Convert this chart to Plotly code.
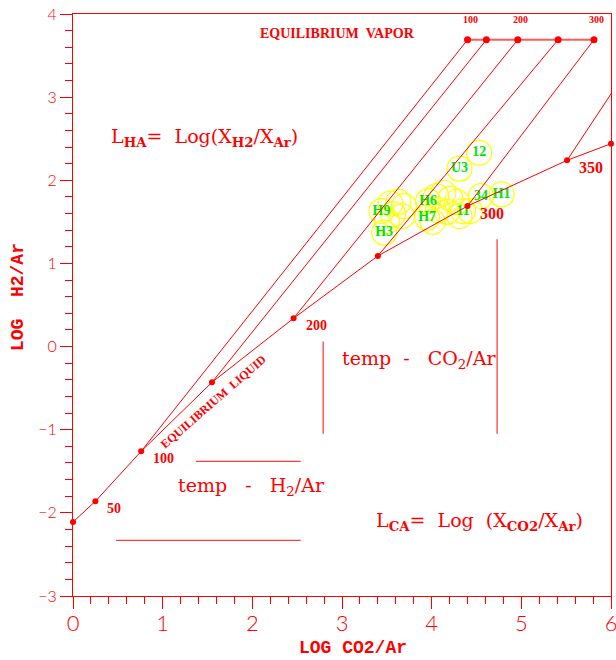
import plotly.graph_objects as go

# ---------------- data ----------------
# equilibrium liquid curve (L_CA, L_HA) with temperature labels
liquid_x = [0.00, 0.25, 0.76, 1.55, 2.46, 3.40, 4.40, 5.51, 6.00]
liquid_y = [-2.11, -1.86, -1.26, -0.43, 0.34, 1.09, 1.69, 2.24, 2.44]
liquid_labels = ["", "50", "100", "", "200", "", "300", "350", ""]
liquid_label_big = [False, False, False, False, False, False, True, True, False]

# equilibrium vapor line
vapor_x = [4.40, 4.61, 4.96, 5.41, 5.81]
vapor_y = [3.69, 3.69, 3.69, 3.69, 3.69]
vapor_labels = ["100", "", "200", "", "300"]

# tie lines: liquid point -> vapor end point
tie_liq_x = [0.76, 1.55, 2.46, 3.40, 4.40, 5.51]
tie_liq_y = [-1.26, -0.43, 0.34, 1.09, 1.69, 2.24]
tie_vap_x = [4.40, 4.61, 4.96, 5.41, 5.81, 6.40]
tie_vap_y = [3.69, 3.69, 3.69, 3.69, 3.69, 3.69]

# labelled samples
sample_names = ["12", "U3", "H1", "34", "11", "H6", "H7", "H9", "H3"]
sample_x = [4.53, 4.31, 4.78, 4.55, 4.35, 3.96, 3.95, 3.44, 3.47]
sample_y = [2.33, 2.14, 1.83, 1.81, 1.63, 1.75, 1.55, 1.63, 1.37]

# unlabelled samples
other_x = [3.54, 3.63, 3.69, 3.57, 3.67, 3.50, 4.05, 4.13, 4.21, 4.28,
           4.07, 4.17, 4.01, 4.31, 4.43]
other_y = [1.72, 1.74, 1.69, 1.59, 1.57, 1.51, 1.81, 1.85, 1.78, 1.74,
           1.64, 1.62, 1.50, 1.57, 1.63]

RED = "#ff0000"
SERIF = "DejaVu Serif"

fig = go.Figure()

# sample bubbles
fig.add_trace(go.Scatter(
    x=other_x, y=other_y, mode="markers",
    marker=dict(symbol="circle-open", size=25, color="#ffff00",
                line=dict(width=1.2)),
    hoverinfo="skip"))
fig.add_trace(go.Scatter(
    x=sample_x, y=sample_y, mode="markers+text", text=sample_names,
    textposition="middle center",
    textfont=dict(color="#00e600", size=14, family="Liberation Serif",
                  weight="bold"),
    marker=dict(symbol="circle-open", size=25, color="#ffff00",
                line=dict(width=1.2)),
    hoverinfo="skip"))

# tie lines
tx, ty = [], []
for a, b, c, d in zip(tie_liq_x, tie_liq_y, tie_vap_x, tie_vap_y):
    tx += [a, c, None]
    ty += [b, d, None]
fig.add_trace(go.Scatter(x=tx, y=ty, mode="lines",
                         line=dict(color=RED, width=1), hoverinfo="skip"))

# vapor line
fig.add_trace(go.Scatter(x=vapor_x, y=vapor_y, mode="lines",
                         line=dict(color="rgba(255,60,60,0.85)", width=2.2),
                         hoverinfo="skip"))
fig.add_trace(go.Scatter(x=vapor_x, y=vapor_y, mode="markers",
                         marker=dict(color=RED, size=7), cliponaxis=False,
                         hoverinfo="skip"))

# liquid curve
fig.add_trace(go.Scatter(x=liquid_x, y=liquid_y, mode="lines+markers",
                         line=dict(color=RED, width=1),
                         marker=dict(color=RED, size=6), cliponaxis=False,
                         hoverinfo="skip"))

ann = []
for x, y, t, big in zip(liquid_x, liquid_y, liquid_labels, liquid_label_big):
    if t:
        ann.append(dict(x=x, y=y, text=t, showarrow=False, xanchor="left",
                        yanchor="middle", xshift=10, yshift=-7,
                        font=dict(family="Liberation Serif", weight="bold",
                                  size=16 if big else 14, color=RED)))
for x, y, t in zip(vapor_x, vapor_y, vapor_labels):
    if t:
        ann.append(dict(x=x, y=y, text=t, showarrow=False, xanchor="center",
                        yanchor="middle", xshift=3, yshift=20,
                        font=dict(family="Liberation Serif", weight="bold",
                                  size=10, color=RED)))

NB = "\u00a0"
texts = [
    dict(x=2.955, y=3.77, text="EQUILIBRIUM" + NB * 2 + "VAPOR", xanchor="center",
         font=dict(family="Liberation Serif", weight="bold", size=14, color=RED)),
    dict(x=1.562, y=-0.667, text="EQUILIBRIUM" + NB * 2 + "LIQUID", xanchor="center",
         textangle=-41,
         font=dict(family="Liberation Serif", weight="bold", size=12, color=RED)),
    dict(x=0.40, y=2.52, xanchor="left",
         text="L<sub><b>HA</b></sub>=" + NB * 2 + "Log(X<sub><b>H2</b></sub>/X<sub><b>Ar</b></sub>)",
         font=dict(family=SERIF, size=19, color=RED)),
    dict(x=3.356, y=-2.107, xanchor="left",
         text="L<sub><b>CA</b></sub>=" + NB * 2 + "Log" + NB * 2 + "(X<sub><b>CO2</b></sub>/X<sub><b>Ar</b></sub>)",
         font=dict(family=SERIF, size=19, color=RED)),
    dict(x=2.978, y=-0.153, xanchor="left",
         text="temp" + NB * 2 + "-" + NB * 3 + "CO<sub>2</sub>/Ar",
         font=dict(family=SERIF, size=19, color=RED)),
    dict(x=1.154, y=-1.686, xanchor="left",
         text="temp" + NB * 3 + "-" + NB * 3 + "H<sub>2</sub>/Ar",
         font=dict(family=SERIF, size=19, color=RED)),
]
for t in texts:
    t.setdefault("yanchor", "middle")
    t["showarrow"] = False
    ann.append(t)

# axis titles (paper coordinates, outside the plotting area)
ann.append(dict(xref="paper", yref="paper", x=0.520, y=-0.0893,
                xanchor="center", yanchor="middle", showarrow=False,
                text="LOG" + NB + "CO2/Ar",
                font=dict(family="Liberation Mono", weight="bold", size=18, color=RED)))
ann.append(dict(xref="paper", yref="paper", x=-0.1022, y=0.5137,
                xanchor="center", yanchor="middle", showarrow=False,
                textangle=-90, text="LOG" + NB * 2 + "H2/Ar",
                font=dict(family="Liberation Mono", weight="bold", size=18, color=RED)))

shapes = [
    dict(type="line", x0=1.37, x1=2.54, y0=-1.38, y1=-1.38),
    dict(type="line", x0=0.48, x1=2.54, y0=-2.33, y1=-2.33),
    dict(type="line", x0=2.79, x1=2.79, y0=0.06, y1=-1.05),
    dict(type="line", x0=4.73, x1=4.73, y0=1.29, y1=-1.05),
]
for s in shapes:
    s.update(xref="x", yref="y", line=dict(color="rgba(255,40,40,0.9)", width=1.3))

axis_common = dict(showline=True, linecolor=RED, linewidth=1, mirror=True,
                   ticks="outside", ticklen=12, tickcolor=RED, tickwidth=1,
                   dtick=1, tick0=0, showgrid=False, zeroline=False,
                   automargin=False, ticklabeloverflow="allow",
                   minor=dict(ticks="outside", ticklen=7, tickcolor=RED,
                              tickwidth=1, dtick=0.2, showgrid=False))

fig.update_layout(
    width=616, height=660,
    margin=dict(l=73, r=5, t=14, b=64, autoexpand=False),
    paper_bgcolor="white", plot_bgcolor="white",
    showlegend=False,
    xaxis=dict(range=[0, 6], tickfont=dict(family="Lato", weight=300,
                                           size=22, color=RED),
               ticklabelstandoff=-4, **axis_common),
    yaxis=dict(range=[-3, 4], tickfont=dict(family="Lato", weight=300,
                                            size=16, color=RED),
               ticklabelstandoff=0, **axis_common),
    annotations=ann,
    shapes=shapes,
)

fig.write_html("out.html", config={"displayModeBar": False, "staticPlot": True},
               post_script="document.body.style.margin='0';"
                           "document.body.style.overflow='hidden';")
